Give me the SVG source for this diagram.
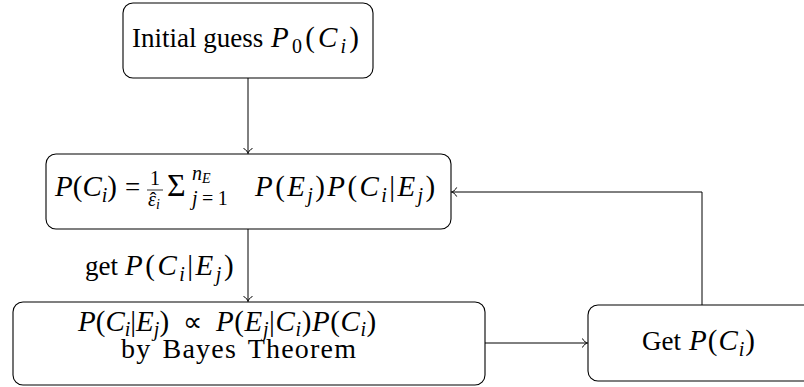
<svg xmlns="http://www.w3.org/2000/svg" width="804" height="387" viewBox="0 0 804 387">
<defs>
<marker id="arr" markerUnits="userSpaceOnUse" markerWidth="12" markerHeight="12" viewBox="-6 -6 12 12" refX="0" refY="0" orient="auto">
<path d="M-5,-4.2 C-3.8,-1.6 -1.2,-0.3 0,0 C-1.2,0.3 -3.8,1.6 -5,4.2" fill="none" stroke="#000" stroke-width="1" stroke-linecap="round"/>
</marker>
<style>
.box{fill:#fff;stroke:#000;stroke-width:1.1}
.t{font-family:"Liberation Serif","Times New Roman",serif;font-size:27px;fill:#000}
.m{font-style:italic;font-size:29px}
.n{font-style:normal}
.s{font-size:20px}
.ss{font-size:14px}
.edge{fill:none;stroke:#000;stroke-width:1;marker-end:url(#arr)}
</style>
</defs>
<rect width="804" height="387" fill="#fff"/>
<g id="connectors">
<line class="edge" x1="248" y1="78" x2="248" y2="153.5"/>
<line class="edge" x1="248" y1="229" x2="248" y2="301.5"/>
<line class="edge" x1="485" y1="343" x2="587.5" y2="343"/>
<path class="edge" d="M702,305 V192 H451.5"/>
<text class="t" x="85" y="275">get</text>
<text class="t m" x="125" y="275" letter-spacing="2.5">P<tspan class="n">(</tspan>C<tspan class="s" dy="6">i</tspan><tspan class="n" dy="-6">|</tspan>E<tspan class="s" dy="6">j</tspan><tspan class="n" dy="-6">)</tspan></text>
</g>
<g id="init">
<rect class="box" x="123" y="3" width="250" height="75" rx="10"/>
<text class="t" x="132" y="47">Initial guess</text>
<text class="t m" x="271" y="47" letter-spacing="3.2">P<tspan class="s n" dy="6">0</tspan><tspan class="n" dy="-6">(</tspan>C<tspan class="s" dy="6">i</tspan><tspan class="n" dy="-6">)</tspan></text>
</g>
<g id="update">
<rect class="box" x="46" y="154" width="405" height="75" rx="10"/>
<text class="t m" x="55" y="196">P<tspan class="n">(</tspan>C<tspan class="s" dy="6">i</tspan><tspan class="n" dy="-6">)</tspan></text>
<text class="t" x="125" y="196">=</text>
<text class="t s" x="155" y="185" text-anchor="middle">1</text>
<line x1="147" y1="190" x2="163" y2="190" stroke="#000" stroke-width="0.8"/>
<text class="t m s" x="148" y="206">ε<tspan class="ss" dy="3">i</tspan></text>
<text class="t s" x="153" y="207" text-anchor="middle">ˆ</text>
<text class="t" x="167" y="196" style="font-size:32px">Σ</text>
<text class="t m s" x="192" y="180">n<tspan class="ss" dy="3">E</tspan></text>
<text class="t s" x="192" y="205" letter-spacing="4.5"><tspan class="m s">j</tspan>=1</text>
<text class="t m" x="255" y="196" letter-spacing="2.4">P<tspan class="n">(</tspan>E<tspan class="s" dy="6">j</tspan><tspan class="n" dy="-6">)</tspan>P<tspan class="n">(</tspan>C<tspan class="s" dy="6">i</tspan><tspan class="n" dy="-6">|</tspan>E<tspan class="s" dy="6">j</tspan><tspan class="n" dy="-6">)</tspan></text>
</g>
<g id="bayes">
<rect class="box" x="13" y="302" width="472" height="83" rx="10"/>
<text class="t m" x="78" y="331">P<tspan class="n">(</tspan>C<tspan class="s" dy="4.5">i</tspan><tspan class="n" dy="-4.5">|</tspan>E<tspan class="s" dy="4.5">j</tspan><tspan class="n" dy="-4.5">)</tspan></text>
<text class="t" x="183" y="331">∝</text>
<text class="t m" x="216" y="331" letter-spacing="0.6">P<tspan class="n">(</tspan>E<tspan class="s" dy="4.5">j</tspan><tspan class="n" dy="-4.5">|</tspan>C<tspan class="s" dy="4.5">i</tspan><tspan class="n" dy="-4.5">)</tspan>P<tspan class="n">(</tspan>C<tspan class="s" dy="4.5">i</tspan><tspan class="n" dy="-4.5">)</tspan></text>
<text class="t" x="121" y="358" style="font-size:28px" letter-spacing="1.2" word-spacing="3">by Bayes Theorem</text>
</g>
<g id="getp">
<rect class="box" x="588" y="305" width="228" height="76" rx="10"/>
<text class="t" x="642" y="350">Get</text>
<text class="t m" x="689" y="350" letter-spacing="1">P<tspan class="n">(</tspan>C<tspan class="s" dy="6">i</tspan><tspan class="n" dy="-6">)</tspan></text>
</g>
</svg>
